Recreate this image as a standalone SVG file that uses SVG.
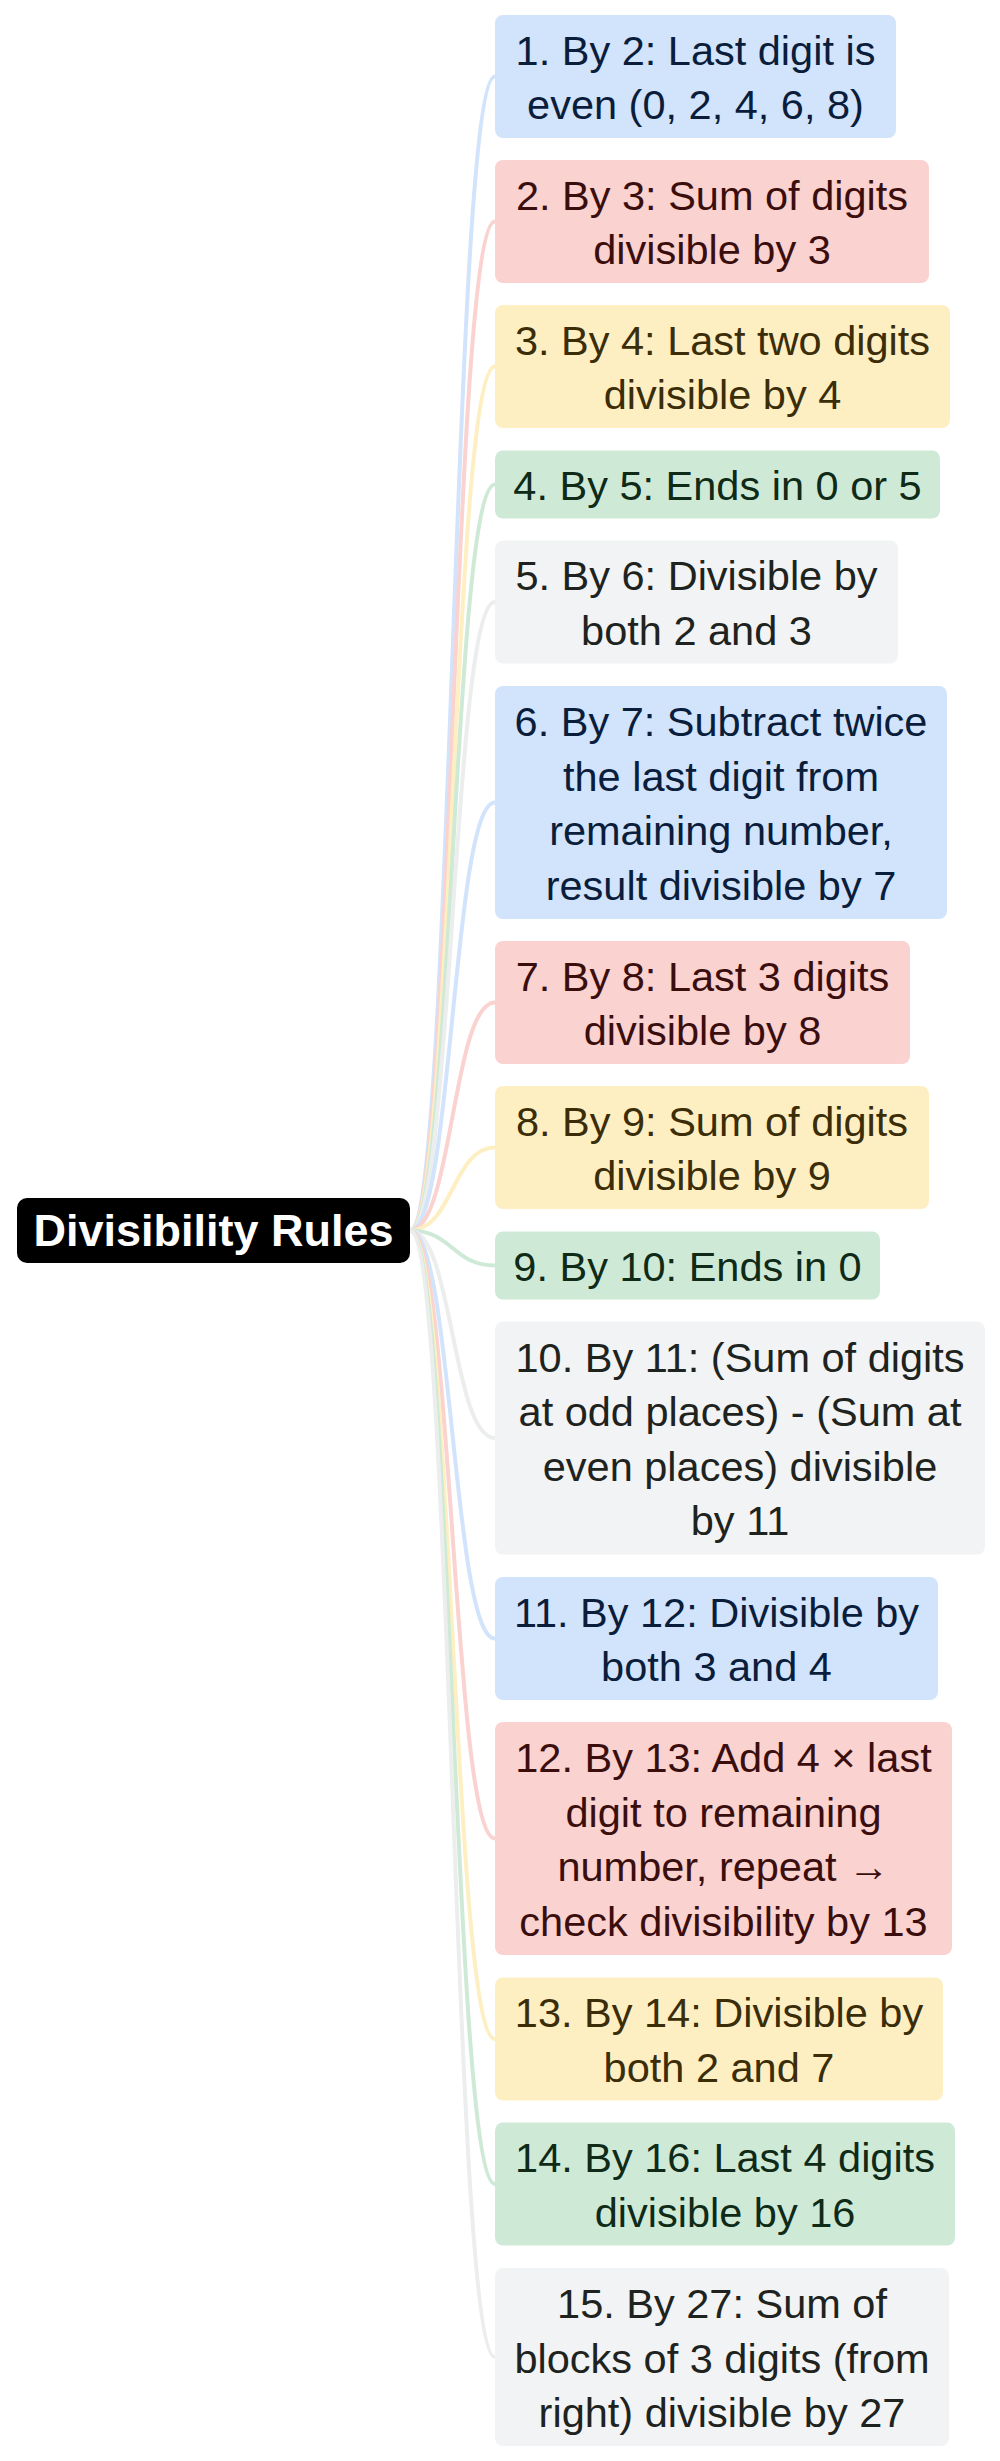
<svg xmlns="http://www.w3.org/2000/svg" width="1000" height="2461" viewBox="0 0 1000 2461">
<style>
.t{font-family:"Liberation Sans",Arial,Helvetica,sans-serif;font-size:41.5px;text-anchor:middle}
.e{fill:none;stroke-width:4;stroke-linecap:round}
.b{fill:#d2e3fc}.r{fill:#fad2cf}.y{fill:#feefc3}.g{fill:#ceead6}.k{fill:#f1f3f4}
.tb{fill:#0a1d3b}.tr{fill:#3b0e0e}.ty{fill:#3a2d08}.tg{fill:#0f2a17}.tk{fill:#1e2320}
.eb{stroke:#d2e3fc}.er{stroke:#fad2cf}.ey{stroke:#feefc3}.eg{stroke:#ceead6}.ek{stroke:#eceeee}
</style>
<rect width="1000" height="2461" fill="#ffffff"/>
<g id="connectors">
<path class="e eb" d="M410,1230.5 C452.5,1230.5 452.5,76.5 495,76.5"/>
<path class="e er" d="M410,1230.5 C452.5,1230.5 452.5,221.5 495,221.5"/>
<path class="e ey" d="M410,1230.5 C452.5,1230.5 452.5,366.5 495,366.5"/>
<path class="e eg" d="M410,1230.5 C452.5,1230.5 452.5,484.5 495,484.5"/>
<path class="e ek" d="M410,1230.5 C452.5,1230.5 452.5,602 495,602"/>
<path class="e eb" d="M410,1230.5 C452.5,1230.5 452.5,802.5 495,802.5"/>
<path class="e er" d="M410,1230.5 C452.5,1230.5 452.5,1002.5 495,1002.5"/>
<path class="e ey" d="M410,1230.5 C452.5,1230.5 452.5,1147.5 495,1147.5"/>
<path class="e eg" d="M410,1230.5 C452.5,1230.5 452.5,1265.5 495,1265.5"/>
<path class="e ek" d="M410,1230.5 C452.5,1230.5 452.5,1438 495,1438"/>
<path class="e eb" d="M410,1230.5 C452.5,1230.5 452.5,1638.5 495,1638.5"/>
<path class="e er" d="M410,1230.5 C452.5,1230.5 452.5,1838.5 495,1838.5"/>
<path class="e ey" d="M410,1230.5 C452.5,1230.5 452.5,2039 495,2039"/>
<path class="e eg" d="M410,1230.5 C452.5,1230.5 452.5,2184 495,2184"/>
<path class="e ek" d="M410,1230.5 C452.5,1230.5 452.5,2357 495,2357"/>
</g>
<g id="root">
<rect x="17" y="1198" width="393" height="65" rx="10" fill="#000000"/>
<text x="213.5" y="1246" style="font-family:'Liberation Sans',Arial,Helvetica,sans-serif;font-size:45px;font-weight:bold;text-anchor:middle" fill="#ffffff">Divisibility Rules</text>
</g>
<g id="n1">
<rect class="b" x="495" y="15" width="401" height="123" rx="8"/>
<text class="t tb" x="695.5"><tspan x="695.5" y="64.75">1. By 2: Last digit is</tspan><tspan x="695.5" y="119.25">even (0, 2, 4, 6, 8)</tspan></text>
</g>
<g id="n2">
<rect class="r" x="495" y="160" width="434" height="123" rx="8"/>
<text class="t tr"><tspan x="712" y="209.75">2. By 3: Sum of digits</tspan><tspan x="712" y="264.25">divisible by 3</tspan></text>
</g>
<g id="n3">
<rect class="y" x="495" y="305" width="455" height="123" rx="8"/>
<text class="t ty"><tspan x="722.5" y="354.75">3. By 4: Last two digits</tspan><tspan x="722.5" y="409.25">divisible by 4</tspan></text>
</g>
<g id="n4">
<rect class="g" x="495" y="450.5" width="445" height="68" rx="8"/>
<text class="t tg"><tspan x="717.5" y="500">4. By 5: Ends in 0 or 5</tspan></text>
</g>
<g id="n5">
<rect class="k" x="495" y="540.5" width="403" height="123" rx="8"/>
<text class="t tk"><tspan x="696.5" y="590.25">5. By 6: Divisible by</tspan><tspan x="696.5" y="644.75">both 2 and 3</tspan></text>
</g>
<g id="n6">
<rect class="b" x="495" y="686" width="452" height="233" rx="8"/>
<text class="t tb"><tspan x="721" y="736.25">6. By 7: Subtract twice</tspan><tspan x="721" y="790.75">the last digit from</tspan><tspan x="721" y="845.25">remaining number,</tspan><tspan x="721" y="899.75">result divisible by 7</tspan></text>
</g>
<g id="n7">
<rect class="r" x="495" y="941" width="415" height="123" rx="8"/>
<text class="t tr"><tspan x="702.5" y="990.75">7. By 8: Last 3 digits</tspan><tspan x="702.5" y="1045.25">divisible by 8</tspan></text>
</g>
<g id="n8">
<rect class="y" x="495" y="1086" width="434" height="123" rx="8"/>
<text class="t ty"><tspan x="712" y="1135.75">8. By 9: Sum of digits</tspan><tspan x="712" y="1190.25">divisible by 9</tspan></text>
</g>
<g id="n9">
<rect class="g" x="495" y="1231.5" width="385" height="68" rx="8"/>
<text class="t tg"><tspan x="687.5" y="1281">9. By 10: Ends in 0</tspan></text>
</g>
<g id="n10">
<rect class="k" x="495" y="1321.5" width="490" height="233" rx="8"/>
<text class="t tk"><tspan x="740" y="1371.75">10. By 11: (Sum of digits</tspan><tspan x="740" y="1426.25">at odd places) - (Sum at</tspan><tspan x="740" y="1480.75">even places) divisible</tspan><tspan x="740" y="1535.25">by 11</tspan></text>
</g>
<g id="n11">
<rect class="b" x="495" y="1577" width="443" height="123" rx="8"/>
<text class="t tb"><tspan x="716.5" y="1626.75">11. By 12: Divisible by</tspan><tspan x="716.5" y="1681.25">both 3 and 4</tspan></text>
</g>
<g id="n12">
<rect class="r" x="495" y="1722" width="457" height="233" rx="8"/>
<text class="t tr"><tspan x="723.5" y="1772.25">12. By 13: Add 4 × last</tspan><tspan x="723.5" y="1826.75">digit to remaining</tspan><tspan x="723.5" y="1881.25">number, repeat →</tspan><tspan x="723.5" y="1935.75">check divisibility by 13</tspan></text>
</g>
<g id="n13">
<rect class="y" x="495" y="1977.5" width="448" height="123" rx="8"/>
<text class="t ty"><tspan x="719" y="2027.25">13. By 14: Divisible by</tspan><tspan x="719" y="2081.75">both 2 and 7</tspan></text>
</g>
<g id="n14">
<rect class="g" x="495" y="2122.5" width="460" height="123" rx="8"/>
<text class="t tg"><tspan x="725" y="2172.25">14. By 16: Last 4 digits</tspan><tspan x="725" y="2226.75">divisible by 16</tspan></text>
</g>
<g id="n15">
<rect class="k" x="495" y="2268" width="454" height="178" rx="8"/>
<text class="t tk"><tspan x="722" y="2318">15. By 27: Sum of</tspan><tspan x="722" y="2372.5">blocks of 3 digits (from</tspan><tspan x="722" y="2427">right) divisible by 27</tspan></text>
</g>
</svg>
